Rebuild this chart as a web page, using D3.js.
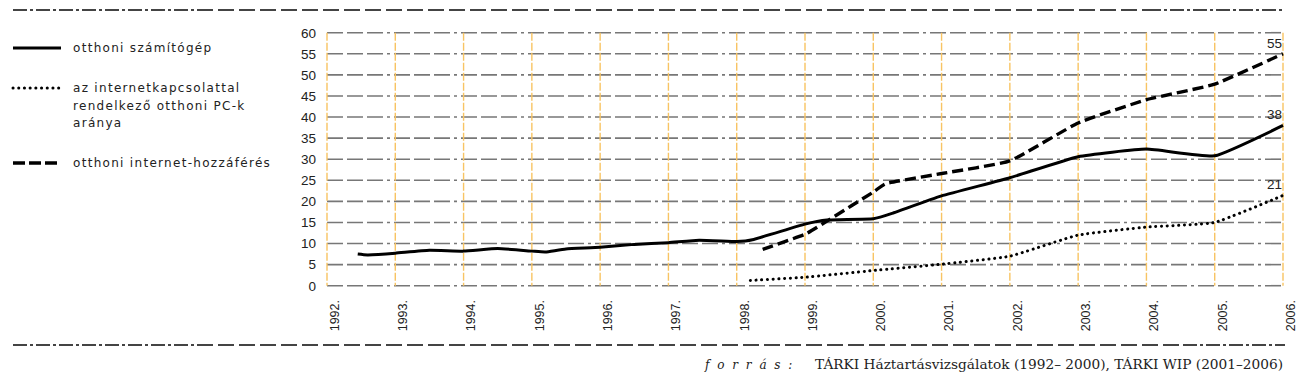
<!DOCTYPE html>
<html lang="hu">
<head>
<meta charset="utf-8">
<script src="https://d3js.org/d3.v7.min.js"></script>
<style>
    body { margin: 0; background: #fff; }
    svg text { fill: #222; }
</style>
</head>
<body>
<svg width="1302" height="385"></svg>

<script>
// values (fractional years where the curve bends between surveys)
var yearTicks = [1992, 1993, 1994, 1995, 1996, 1997, 1998, 1999, 2000, 2001, 2002, 2003, 2004, 2005, 2006];
var valueTicks = [0, 5, 10, 15, 20, 25, 30, 35, 40, 45, 50, 55, 60];

var pcYears  = [1992.45, 1992.6, 1993, 1993.5, 1994, 1994.5, 1995, 1995.2, 1995.5, 1996, 1996.5, 1997, 1997.45, 1998, 1998.23, 1999, 1999.32, 2000, 2000.3, 2001, 2002, 2003, 2004, 2005, 2006];
var pcValues = [7.5, 7.3, 7.7, 8.4, 8.2, 8.8, 8.2, 8.0, 8.7, 9.1, 9.8, 10.2, 10.8, 10.5, 10.9, 14.6, 15.6, 15.9, 17.3, 21.3, 25.6, 30.6, 32.4, 30.8, 38];

var netYears  = [1998.38, 1999, 1999.35, 2000, 2000.2, 2001, 2002, 2003, 2004, 2005, 2006];
var netValues = [8.6, 12.2, 15.6, 22.2, 24.3, 26.6, 29.6, 38.6, 44.1, 47.8, 55];

var shareYears  = [1998.2, 1999, 2000, 2001, 2002, 2003, 2004, 2005, 2006];
var shareValues = [1.25, 2.0, 3.6, 5.1, 7.0, 12.0, 13.9, 15.0, 21.4];
var endLabels = ["55", "38", "21"];

var legendLabels = [
    ["otthoni számítógép"],
    ["az internetkapcsolattal", "rendelkező otthoni PC-k", "aránya"],
    ["otthoni internet-hozzáférés"]
];
var sourceLabel = "f o r r á s :";
var sourceText = "TÁRKI Háztartásvizsgálatok (1992– 2000), TÁRKI WIP (2001–2006)";

var svg = d3.select("svg");
var x = d3.scaleLinear().domain([1992, 2006]).range([327, 1283]);
var y = d3.scaleLinear().domain([0, 60]).range([285.7, 32.7]);
var sans = "Liberation Sans, Arial, sans-serif";

// frame lines top and bottom: dash-dot at the ends, plain dashes in between
function frameLine(yy, breakR) {
    var segs = [[13, 197, "14,3,3,3"], [197, breakR, "16,5"], [breakR, 1285, "14,3,3,3"]];
    svg.append("g").selectAll("line").data(segs).enter().append("line")
        .attr("x1", d => d[0]).attr("x2", d => d[1])
        .attr("y1", yy).attr("y2", yy)
        .attr("stroke", "#444").attr("stroke-width", 2.2)
        .attr("stroke-dasharray", d => d[2]);
}
frameLine(10, 1147);
frameLine(345, 1183);

// horizontal grid
svg.append("g").selectAll("line").data(valueTicks).enter().append("line")
    .attr("x1", x(1992)).attr("x2", x(2006))
    .attr("y1", d => y(d)).attr("y2", d => y(d))
    .attr("stroke", "#777").attr("stroke-width", 1.6)
    .attr("stroke-dasharray", "16,4,16,4,16,4,3,4");

// vertical orange year lines
svg.append("g").selectAll("line").data(yearTicks).enter().append("line")
    .attr("x1", d => x(d)).attr("x2", d => x(d))
    .attr("y1", y(60)).attr("y2", y(0))
    .attr("stroke", "#f8c463").attr("stroke-width", 1.4)
    .attr("stroke-dasharray", "8,2");

// y axis labels
var yAxis = svg.append("g").attr("transform", "translate(318,0)")
    .call(d3.axisLeft(y).tickValues(valueTicks).tickSize(0).tickPadding(2));
yAxis.select(".domain").remove();
yAxis.selectAll("text").style("font-family", sans).style("font-size", "13.5px").style("fill", "#222");

// x axis labels, rotated
var xAxis = svg.append("g").attr("transform", "translate(0,300)")
    .call(d3.axisBottom(x).tickValues(yearTicks).tickFormat(d => d + ".").tickSize(0));
xAxis.select(".domain").remove();
xAxis.selectAll("text")
    .style("font-family", sans).style("font-size", "12.5px").style("fill", "#222")
    .attr("text-anchor", "end")
    .attr("transform", "translate(7,0) rotate(-90)")
    .attr("x", 0).attr("y", 0).attr("dy", "0.35em");

// series
var line = d3.line().curve(d3.curveCardinal.tension(0.6)).x(d => x(d[0])).y(d => y(d[1]));
var series = [
    {pts: d3.zip(pcYears, pcValues), dash: null, width: 3, cap: "butt"},
    {pts: d3.zip(shareYears, shareValues), dash: "0.1,5.6", width: 3, cap: "round"},
    {pts: d3.zip(netYears, netValues), dash: "11,5", width: 3.4, cap: "butt"}
];
svg.append("g").selectAll("path").data(series).enter().append("path")
    .attr("d", d => line(d.pts))
    .attr("fill", "none").attr("stroke", "#000")
    .attr("stroke-width", d => d.width)
    .attr("stroke-linecap", d => d.cap)
    .attr("stroke-dasharray", d => d.dash);

// end value labels
var ends = [netValues[netValues.length - 1], pcValues[pcValues.length - 1], shareValues[shareValues.length - 1]];
svg.append("g").selectAll("text").data(ends).enter().append("text")
    .attr("x", x(2006) - 1).attr("y", d => y(d) - 6)
    .attr("text-anchor", "end")
    .style("font-family", sans).style("font-size", "13.5px")
    .text((d, i) => endLabels[i]);

// legend
var legendY = [48, 88, 163];
var leg = svg.append("g").selectAll("g").data(series).enter().append("g")
    .attr("transform", (d, i) => `translate(13,${legendY[i]})`);
leg.append("line")
    .attr("x1", 0).attr("x2", 48).attr("y1", 0).attr("y2", 0)
    .attr("stroke", "#000")
    .attr("stroke-width", d => d.width)
    .attr("stroke-linecap", d => d.cap)
    .attr("stroke-dasharray", (d, i) => i === 2 ? "12,4" : d.dash);
leg.each(function(d, i) {
    d3.select(this).selectAll("text").data(legendLabels[i]).enter().append("text")
        .attr("x", 60).attr("y", (t, j) => j * 17.5)
        .attr("dy", "0.35em")
        .style("font-family", "DejaVu Sans, sans-serif")
        .style("font-size", "12px").style("letter-spacing", "1.3px")
        .text(t => t);
});

// source
svg.append("text").attr("x", 705).attr("y", 369)
    .style("font-family", "DejaVu Serif, serif").style("font-style", "italic")
    .style("font-size", "12px").style("letter-spacing", "2px")
    .text(sourceLabel);
svg.append("text").attr("x", 1283).attr("y", 369)
    .attr("text-anchor", "end")
    .style("font-family", "DejaVu Serif, serif").style("font-size", "12px")
    .attr("textLength", 468).attr("lengthAdjust", "spacingAndGlyphs")
    .text(sourceText);
</script>
</body>
</html>
